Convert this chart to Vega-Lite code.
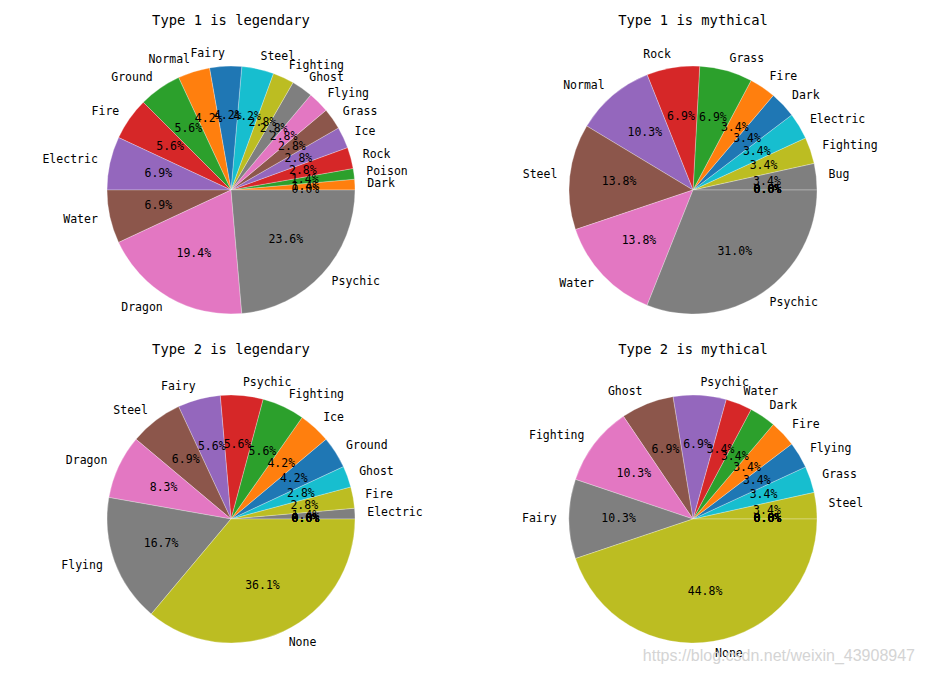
{
  "$schema": "https://vega.github.io/schema/vega-lite/v6.json",
  "padding": {"left": 31, "top": 14, "right": 10, "bottom": 5},
  "background": "white",
  "config": {
    "view": {"stroke": null},
    "font": "DejaVu Sans Mono",
    "title": {"font": "DejaVu Sans Mono", "fontSize": 13.8, "fontWeight": "normal", "color": "black", "offset": 17},
    "text": {"font": "DejaVu Sans Mono", "fontSize": 11.5, "color": "black", "baseline": "middle"}
  },
  "title": {"text": "https://blog.csdn.net/weixin_43908947", "orient": "bottom", "anchor": "end", "font": "Liberation Sans", "fontSize": 16, "color": "#d4d4d4", "offset": -16, "dx": 22, "fontWeight": "normal"},
  "resolve": {"scale": {"color": "independent", "theta": "independent"}},
  "datasets": {
    "t1leg": [
      {"type": "Bug", "n": 0}, {"type": "Dark", "n": 1}, {"type": "Poison", "n": 1}, {"type": "Rock", "n": 2},
      {"type": "Ice", "n": 2}, {"type": "Grass", "n": 2}, {"type": "Flying", "n": 2}, {"type": "Ghost", "n": 2},
      {"type": "Fighting", "n": 2}, {"type": "Steel", "n": 3}, {"type": "Fairy", "n": 3}, {"type": "Normal", "n": 3},
      {"type": "Ground", "n": 4}, {"type": "Fire", "n": 4}, {"type": "Electric", "n": 5}, {"type": "Water", "n": 5},
      {"type": "Dragon", "n": 14}, {"type": "Psychic", "n": 17}
    ],
    "t1myth": [
      {"type": "Dragon", "n": 0}, {"type": "Fairy", "n": 0}, {"type": "Flying", "n": 0}, {"type": "Ghost", "n": 0},
      {"type": "Ground", "n": 0}, {"type": "Ice", "n": 0}, {"type": "Poison", "n": 0}, {"type": "Bug", "n": 1},
      {"type": "Fighting", "n": 1}, {"type": "Electric", "n": 1}, {"type": "Dark", "n": 1}, {"type": "Fire", "n": 1},
      {"type": "Grass", "n": 2}, {"type": "Rock", "n": 2}, {"type": "Normal", "n": 3}, {"type": "Steel", "n": 4},
      {"type": "Water", "n": 4}, {"type": "Psychic", "n": 9}
    ],
    "t2leg": [
      {"type": "Bug", "n": 0}, {"type": "Dark", "n": 0}, {"type": "Grass", "n": 0}, {"type": "Normal", "n": 0},
      {"type": "Poison", "n": 0}, {"type": "Rock", "n": 0}, {"type": "Water", "n": 0}, {"type": "Electric", "n": 1},
      {"type": "Fire", "n": 2}, {"type": "Ghost", "n": 2}, {"type": "Ground", "n": 3}, {"type": "Ice", "n": 3},
      {"type": "Fighting", "n": 4}, {"type": "Psychic", "n": 4}, {"type": "Fairy", "n": 4}, {"type": "Steel", "n": 5},
      {"type": "Dragon", "n": 6}, {"type": "Flying", "n": 12}, {"type": "None", "n": 26}
    ],
    "t2myth": [
      {"type": "Bug", "n": 0}, {"type": "Dragon", "n": 0}, {"type": "Electric", "n": 0}, {"type": "Ground", "n": 0},
      {"type": "Ice", "n": 0}, {"type": "Normal", "n": 0}, {"type": "Poison", "n": 0}, {"type": "Rock", "n": 0},
      {"type": "Steel", "n": 1}, {"type": "Grass", "n": 1}, {"type": "Flying", "n": 1}, {"type": "Fire", "n": 1},
      {"type": "Dark", "n": 1}, {"type": "Water", "n": 1}, {"type": "Psychic", "n": 2}, {"type": "Ghost", "n": 2},
      {"type": "Fighting", "n": 3}, {"type": "Fairy", "n": 3}, {"type": "None", "n": 13}
    ]
  },
  "columns": 2,
  "spacing": {"row": 8, "column": 62},
  "concat": [
    {
      "title": "Type 1 is legendary",
      "width": 400, "height": 290,
      "data": {"name": "t1leg"},
      "transform": [
        {"window": [{"op": "row_number", "as": "idx"}]},
        {"window": [{"op": "sum", "field": "n", "as": "cum"}], "sort": [{"field": "idx"}], "frame": [null, 0]},
        {"joinaggregate": [{"op": "sum", "field": "n", "as": "total"}]},
        {"calculate": "datum.cum - datum.n / 2", "as": "mid"},
        {"calculate": "format(datum.n / datum.total * 100, '.1f') + '%'", "as": "pct"},
        {"calculate": "cos(2 * PI * datum.mid / datum.total) > 0", "as": "right"}
      ],
      "layer": [
        {
          "mark": {"type": "arc", "outerRadius": 124, "stroke": "white", "strokeWidth": 0.4, "strokeOpacity": 0.7},
          "encoding": {
            "theta": {"field": "n", "type": "quantitative", "stack": true, "scale": {"range": [1.5707963, -4.712389]}},
            "order": {"field": "idx", "type": "quantitative"},
            "color": {"field": "type", "type": "nominal", "legend": null, "scale": {
              "domain": ["Bug","Dark","Poison","Rock","Ice","Grass","Flying","Ghost","Fighting","Steel","Fairy","Normal","Ground","Fire","Electric","Water","Dragon","Psychic"],
              "range": ["#1f77b4","#ff7f0e","#2ca02c","#d62728","#9467bd","#8c564b","#e377c2","#7f7f7f","#bcbd22","#17becf","#1f77b4","#ff7f0e","#2ca02c","#d62728","#9467bd","#8c564b","#e377c2","#7f7f7f"]}}
          }
        },
        {
          "mark": {"type": "text", "radius": 74.4, "align": "center"},
          "encoding": {"theta": {"field": "mid", "type": "quantitative", "stack": null}, "text": {"field": "pct"}}
        },
        {
          "transform": [{"filter": "datum.n > 0 && datum.right"}],
          "mark": {"type": "text", "radius": 136.4, "align": "left"},
          "encoding": {"theta": {"field": "mid", "type": "quantitative", "stack": null}, "text": {"field": "type"}}
        },
        {
          "transform": [{"filter": "datum.n > 0 && !datum.right"}],
          "mark": {"type": "text", "radius": 136.4, "align": "right"},
          "encoding": {"theta": {"field": "mid", "type": "quantitative", "stack": null}, "text": {"field": "type"}}
        }
      ]
    },
    {
      "title": "Type 1 is mythical",
      "width": 400, "height": 290,
      "data": {"name": "t1myth"},
      "transform": [
        {"window": [{"op": "row_number", "as": "idx"}]},
        {"window": [{"op": "sum", "field": "n", "as": "cum"}], "sort": [{"field": "idx"}], "frame": [null, 0]},
        {"joinaggregate": [{"op": "sum", "field": "n", "as": "total"}]},
        {"calculate": "datum.cum - datum.n / 2", "as": "mid"},
        {"calculate": "format(datum.n / datum.total * 100, '.1f') + '%'", "as": "pct"},
        {"calculate": "cos(2 * PI * datum.mid / datum.total) > 0", "as": "right"}
      ],
      "layer": [
        {
          "mark": {"type": "arc", "outerRadius": 124, "stroke": "white", "strokeWidth": 0.4, "strokeOpacity": 0.7},
          "encoding": {
            "theta": {"field": "n", "type": "quantitative", "stack": true, "scale": {"range": [1.5707963, -4.712389]}},
            "order": {"field": "idx", "type": "quantitative"},
            "color": {"field": "type", "type": "nominal", "legend": null, "scale": {
              "domain": ["Dragon","Fairy","Flying","Ghost","Ground","Ice","Poison","Bug","Fighting","Electric","Dark","Fire","Grass","Rock","Normal","Steel","Water","Psychic"],
              "range": ["#1f77b4","#ff7f0e","#2ca02c","#d62728","#9467bd","#8c564b","#e377c2","#7f7f7f","#bcbd22","#17becf","#1f77b4","#ff7f0e","#2ca02c","#d62728","#9467bd","#8c564b","#e377c2","#7f7f7f"]}}
          }
        },
        {
          "mark": {"type": "text", "radius": 74.4, "align": "center"},
          "encoding": {"theta": {"field": "mid", "type": "quantitative", "stack": null}, "text": {"field": "pct"}}
        },
        {
          "transform": [{"filter": "datum.n > 0 && datum.right"}],
          "mark": {"type": "text", "radius": 136.4, "align": "left"},
          "encoding": {"theta": {"field": "mid", "type": "quantitative", "stack": null}, "text": {"field": "type"}}
        },
        {
          "transform": [{"filter": "datum.n > 0 && !datum.right"}],
          "mark": {"type": "text", "radius": 136.4, "align": "right"},
          "encoding": {"theta": {"field": "mid", "type": "quantitative", "stack": null}, "text": {"field": "type"}}
        }
      ]
    },
    {
      "title": "Type 2 is legendary",
      "width": 400, "height": 290,
      "data": {"name": "t2leg"},
      "transform": [
        {"window": [{"op": "row_number", "as": "idx"}]},
        {"window": [{"op": "sum", "field": "n", "as": "cum"}], "sort": [{"field": "idx"}], "frame": [null, 0]},
        {"joinaggregate": [{"op": "sum", "field": "n", "as": "total"}]},
        {"calculate": "datum.cum - datum.n / 2", "as": "mid"},
        {"calculate": "format(datum.n / datum.total * 100, '.1f') + '%'", "as": "pct"},
        {"calculate": "cos(2 * PI * datum.mid / datum.total) > 0", "as": "right"}
      ],
      "layer": [
        {
          "mark": {"type": "arc", "outerRadius": 124, "stroke": "white", "strokeWidth": 0.4, "strokeOpacity": 0.7},
          "encoding": {
            "theta": {"field": "n", "type": "quantitative", "stack": true, "scale": {"range": [1.5707963, -4.712389]}},
            "order": {"field": "idx", "type": "quantitative"},
            "color": {"field": "type", "type": "nominal", "legend": null, "scale": {
              "domain": ["Bug","Dark","Grass","Normal","Poison","Rock","Water","Electric","Fire","Ghost","Ground","Ice","Fighting","Psychic","Fairy","Steel","Dragon","Flying","None"],
              "range": ["#1f77b4","#ff7f0e","#2ca02c","#d62728","#9467bd","#8c564b","#e377c2","#7f7f7f","#bcbd22","#17becf","#1f77b4","#ff7f0e","#2ca02c","#d62728","#9467bd","#8c564b","#e377c2","#7f7f7f","#bcbd22"]}}
          }
        },
        {
          "mark": {"type": "text", "radius": 74.4, "align": "center"},
          "encoding": {"theta": {"field": "mid", "type": "quantitative", "stack": null}, "text": {"field": "pct"}}
        },
        {
          "transform": [{"filter": "datum.n > 0 && datum.right"}],
          "mark": {"type": "text", "radius": 136.4, "align": "left"},
          "encoding": {"theta": {"field": "mid", "type": "quantitative", "stack": null}, "text": {"field": "type"}}
        },
        {
          "transform": [{"filter": "datum.n > 0 && !datum.right"}],
          "mark": {"type": "text", "radius": 136.4, "align": "right"},
          "encoding": {"theta": {"field": "mid", "type": "quantitative", "stack": null}, "text": {"field": "type"}}
        }
      ]
    },
    {
      "title": "Type 2 is mythical",
      "width": 400, "height": 290,
      "data": {"name": "t2myth"},
      "transform": [
        {"window": [{"op": "row_number", "as": "idx"}]},
        {"window": [{"op": "sum", "field": "n", "as": "cum"}], "sort": [{"field": "idx"}], "frame": [null, 0]},
        {"joinaggregate": [{"op": "sum", "field": "n", "as": "total"}]},
        {"calculate": "datum.cum - datum.n / 2", "as": "mid"},
        {"calculate": "format(datum.n / datum.total * 100, '.1f') + '%'", "as": "pct"},
        {"calculate": "cos(2 * PI * datum.mid / datum.total) > 0", "as": "right"}
      ],
      "layer": [
        {
          "mark": {"type": "arc", "outerRadius": 124, "stroke": "white", "strokeWidth": 0.4, "strokeOpacity": 0.7},
          "encoding": {
            "theta": {"field": "n", "type": "quantitative", "stack": true, "scale": {"range": [1.5707963, -4.712389]}},
            "order": {"field": "idx", "type": "quantitative"},
            "color": {"field": "type", "type": "nominal", "legend": null, "scale": {
              "domain": ["Bug","Dragon","Electric","Ground","Ice","Normal","Poison","Rock","Steel","Grass","Flying","Fire","Dark","Water","Psychic","Ghost","Fighting","Fairy","None"],
              "range": ["#1f77b4","#ff7f0e","#2ca02c","#d62728","#9467bd","#8c564b","#e377c2","#7f7f7f","#bcbd22","#17becf","#1f77b4","#ff7f0e","#2ca02c","#d62728","#9467bd","#8c564b","#e377c2","#7f7f7f","#bcbd22"]}}
          }
        },
        {
          "mark": {"type": "text", "radius": 74.4, "align": "center"},
          "encoding": {"theta": {"field": "mid", "type": "quantitative", "stack": null}, "text": {"field": "pct"}}
        },
        {
          "transform": [{"filter": "datum.n > 0 && datum.right"}],
          "mark": {"type": "text", "radius": 136.4, "align": "left"},
          "encoding": {"theta": {"field": "mid", "type": "quantitative", "stack": null}, "text": {"field": "type"}}
        },
        {
          "transform": [{"filter": "datum.n > 0 && !datum.right"}],
          "mark": {"type": "text", "radius": 136.4, "align": "right"},
          "encoding": {"theta": {"field": "mid", "type": "quantitative", "stack": null}, "text": {"field": "type"}}
        }
      ]
    }
  ]
}
